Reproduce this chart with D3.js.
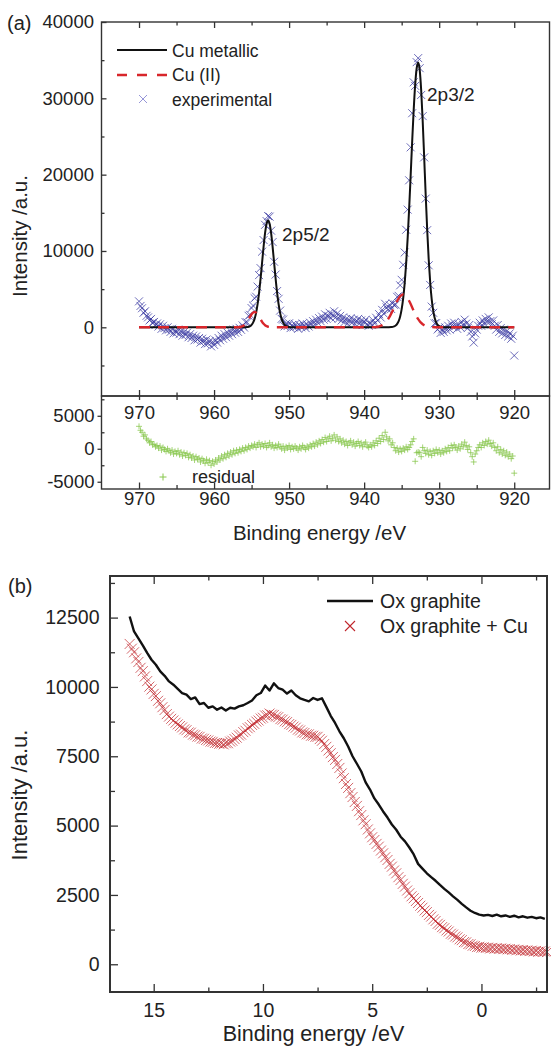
<!DOCTYPE html>
<html>
<head>
<meta charset="utf-8">
<script src="https://cdn.jsdelivr.net/npm/d3@7"></script>
<style>
  body { margin: 0; background: #fff; }
  svg text { font-family: "Liberation Sans", Arial, sans-serif; fill: #222; }
</style>
</head>
<body>
<div class="canvas"></div>
<script>
// (a) Cu 2p spectrum, sampled every 0.2 eV from 970 eV down to 920 eV
var cuEnergyStart = 970;
var cuEnergyStep = 0.2;
var experimental = [
  3400, 2800, 2500, 1900, 2100, 1500, 1300, 900, 1100, 600,
  700, 300, 500, 100, 400, -200, 200, -100, -400, 0,
  -300, -600, -200, -800, -400, -700, -300, -900, -500, -1100,
  -600, -1000, -700, -1300, -900, -1400, -1100, -1700, -1200, -1600,
  -1400, -2000, -1500, -1800, -2200, -1600, -2100, -1800, -2500, -1900,
  -2300, -1700, -2000, -1400, -1700, -1100, -1500, -900, -1300, -700,
  -1100, -500, -900, -300, -700, -200, -600, -70, -330, 250,
  -30, 670, 650, 1510, 1640, 2520, 2840, 3810, 4010, 5330,
  6840, 7750, 9910, 11430, 13430, 13920, 14570, 14500, 12660, 11170,
  8590, 6910, 4750, 3730, 2190, 1110, 1020, 120, 460, 170,
  530, -100, 300, 0, 400, 100, -200, 300, 0, 500,
  200, -100, 400, 100, 600, 300, 800, 400, 1000, 600,
  1200, 800, 1400, 1000, 1700, 1100, 1500, 1900, 1200, 1600,
  2100, 1300, 1800, 1100, 1500, 900, 1300, 700, 1100, 500,
  900, 1200, 600, 1000, 400, 800, 1100, 500, 900, 300,
  700, 1000, 400, 200, 600, 300, 920, 530, 1250, 880,
  1720, 1290, 2280, 1810, 3080, 2600, 2270, 2900, 2400, 3130,
  2930, 2980, 3990, 4120, 5500, 6220, 8190, 9800, 12780, 15420,
  19260, 23580, 28050, 32100, 31630, 34740, 35270, 33950, 30440, 27670,
  22260, 16860, 12730, 8120, 5550, 2710, 1900, 520, 550, -280,
  -50, -730, -270, -600, 0, -400, 200, -300, 500, 100,
  600, 200, -200, 400, 0, 700, 300, 1000, 500, -100,
  300, -600, -1200, -2000, -800, -300, 200, 600, 200, 900,
  500, 1100, 700, 1300, 800, 400, 900, 200, -300, 300,
  -600, -100, -800, -300, -1000, -500, -1200, -800, -1500, -1100,
  -3700
];
var residual = [
  3400, 2800, 2500, 1900, 2100, 1500, 1300, 900, 1100, 600,
  700, 300, 500, 100, 400, -200, 200, -100, -400, 0,
  -300, -600, -200, -800, -400, -700, -300, -900, -500, -1100,
  -600, -1000, -700, -1300, -900, -1400, -1100, -1700, -1200, -1600,
  -1400, -2000, -1500, -1800, -2200, -1600, -2100, -1800, -2500, -1900,
  -2300, -1700, -2000, -1400, -1700, -1100, -1500, -900, -1300, -700,
  -1100, -500, -900, -300, -700, -200, -600, -100, -400, 100,
  -300, 200, -100, 400, 100, 500, 300, 700, 200, 600,
  900, 300, 700, 400, 800, 200, 500, 900, 300, 600,
  100, 500, 200, 700, 300, 0, 400, -200, 300, 100,
  500, -100, 300, 0, 400, 100, -200, 300, 0, 500,
  200, -100, 400, 100, 600, 300, 800, 400, 1000, 600,
  1200, 800, 1400, 1000, 1700, 1100, 1500, 1900, 1200, 1600,
  2100, 1300, 1800, 1100, 1500, 900, 1300, 700, 1100, 500,
  900, 1200, 600, 1000, 400, 800, 1100, 500, 900, 300,
  700, 1000, 400, 200, 600, 300, 900, 500, 1200, 800,
  1600, 1100, 2000, 1400, 2500, 1800, 1200, 1500, 600, 900,
  200, -300, 100, -500, 0, -400, 100, -200, 300, -100,
  200, 600, 1100, 1500, -1900, -600, -500, -600, -1200, 200,
  -300, -700, -200, -900, -400, -1000, -300, -700, -100, -600,
  -200, -800, -300, -600, 0, -400, 200, -300, 500, 100,
  600, 200, -200, 400, 0, 700, 300, 1000, 500, -100,
  300, -600, -1200, -2000, -800, -300, 200, 600, 200, 900,
  500, 1100, 700, 1300, 800, 400, 900, 200, -300, 300,
  -600, -100, -800, -300, -1000, -500, -1200, -800, -1500, -1100,
  -3700
];
var cuMetallicFit = [
  [970, 0], [956, 0], [955.6, 31], [955.4, 71], [955.2, 156], [955, 319], [954.8, 615],
  [954.6, 1110], [954.4, 1890], [954.2, 3030], [954, 4550], [953.8, 6410], [953.6, 8490],
  [953.4, 10570], [953.2, 12360], [953, 13570], [952.8, 14000], [952.6, 13570], [952.4, 12360],
  [952.2, 10570], [952, 8490], [951.8, 6410], [951.6, 4550], [951.4, 3030], [951.2, 1890],
  [951, 1110], [950.8, 615], [950.6, 319], [950.4, 156], [950.2, 71], [950, 31], [949.6, 0],
  [937, 0], [936.4, 26], [936.2, 58], [936, 119], [935.8, 237], [935.6, 450], [935.4, 820],
  [935.2, 1430], [935, 2380], [934.8, 3790], [934.6, 5760], [934.4, 8410], [934.2, 11720],
  [934, 15620], [933.8, 19940], [933.6, 24340], [933.4, 28430], [933.2, 31760], [933, 33940],
  [932.8, 34700], [932.6, 33750], [932.4, 31060], [932.2, 27060], [932, 22280], [931.8, 17370],
  [931.6, 12810], [931.4, 8940], [931.2, 5900], [931, 3680], [930.8, 2180], [930.6, 1220],
  [930.4, 645], [930.2, 322], [930, 153], [929.8, 68], [929.6, 29], [929.2, 0], [920, 0]
];
var cuIIFit = [
  [970, 0], [957, 0], [956.6, 34], [956.4, 73], [956.2, 147], [956, 270], [955.8, 460],
  [955.6, 720], [955.4, 1040], [955.2, 1385], [955, 1700], [954.8, 1920], [954.6, 2000],
  [954.4, 1920], [954.2, 1700], [954, 1385], [953.8, 1040], [953.6, 720], [953.4, 460],
  [953.2, 270], [953, 147], [952.8, 73], [952.6, 34], [952.2, 0], [939.2, 0], [938.8, 17],
  [938.6, 29], [938.4, 48], [938.2, 78], [938, 123], [937.8, 189], [937.6, 280], [937.4, 410],
  [937.2, 580], [937, 800], [936.8, 1070], [936.6, 1395], [936.4, 1770], [936.2, 2175],
  [936, 2610], [935.8, 3040], [935.6, 3440], [935.4, 3795], [935.2, 4070], [935, 4240],
  [934.8, 4300], [934.6, 4240], [934.4, 4070], [934.2, 3795], [934, 3440], [933.8, 3040],
  [933.6, 2610], [933.4, 2175], [933.2, 1770], [933, 1395], [932.8, 1070], [932.6, 800],
  [932.4, 580], [932.2, 410], [932, 280], [931.8, 189], [931.6, 123], [931.4, 78],
  [931.2, 48], [931, 29], [930.8, 17], [930.4, 0], [920, 0]
];
var cuXTicks = [970, 960, 950, 940, 930, 920];
var cuXMinor = [965, 955, 945, 935, 925];
var cuYTicks = [0, 10000, 20000, 30000, 40000];
var cuYMinor = [-5000, 5000, 15000, 25000, 35000];
var resYTicks = [5000, 0, -5000];
var resYMinor = [7500, 2500, -2500];

// (b) valence band, from 16.1 eV downwards
var vbEnergyStart = 16.1;
var oxGraphiteStep = 0.2;
var oxGraphite = [
  12540, 12000, 11750, 11500, 11230, 10980, 10800, 10560, 10400, 10200,
  10080, 9930, 9780, 9720, 9560, 9620, 9380, 9420, 9250, 9300,
  9180, 9260, 9150, 9250, 9220, 9300, 9340, 9420, 9510, 9700,
  9780, 10050, 9870, 10130, 9960, 9900, 9760, 9870, 9700, 9590,
  9530, 9480, 9600, 9530, 9590, 9280, 8960, 8700, 8400, 8150,
  7850, 7500, 7230, 6950, 6560, 6300, 5980, 5760, 5510, 5290,
  5040, 4850, 4600, 4430, 4210, 3960, 3620, 3450, 3280, 3140,
  3010, 2860, 2720, 2590, 2450, 2320, 2180, 2050, 1930, 1850,
  1790, 1760, 1780, 1740, 1790, 1730, 1760, 1710, 1750, 1690,
  1730, 1680, 1710, 1660, 1690, 1640
];
var oxGraphiteCuStep = 0.1;
var oxGraphiteCu = [
  11550, 11380, 11250, 11030, 10900, 10690, 10570, 10380, 10210, 10010,
  9910, 9750, 9670, 9500, 9410, 9270, 9170, 9020, 8930, 8850,
  8790, 8710, 8650, 8590, 8540, 8470, 8440, 8360, 8350, 8280,
  8260, 8210, 8200, 8140, 8130, 8090, 8070, 8030, 8020, 7980,
  7980, 7950, 7960, 7930, 7970, 7970, 8030, 8060, 8120, 8170,
  8250, 8280, 8370, 8420, 8510, 8550, 8630, 8670, 8750, 8790,
  8860, 8890, 8970, 8980, 9040, 9000, 8990, 8930, 8910, 8840,
  8820, 8760, 8730, 8660, 8630, 8570, 8530, 8460, 8430, 8360,
  8340, 8290, 8290, 8240, 8240, 8200, 8200, 8120, 8060, 7940,
  7840, 7710, 7610, 7470, 7370, 7220, 7080, 6880, 6710, 6500,
  6360, 6170, 6030, 5850, 5710, 5520, 5380, 5190, 5050, 4860,
  4720, 4580, 4480, 4340, 4240, 4100, 4000, 3860, 3760, 3620,
  3520, 3380, 3280, 3140, 3040, 2900, 2800, 2660, 2560, 2450,
  2380, 2280, 2210, 2110, 2040, 1940, 1880, 1780, 1720, 1620,
  1560, 1460, 1420, 1340, 1300, 1220, 1180, 1100, 1070, 1000,
  970, 900, 870, 800, 790, 730, 720, 670, 660, 620,
  630, 600, 610, 590, 600, 570, 590, 560, 580, 555,
  570, 545, 560, 535, 550, 520, 535, 505, 520, 495,
  510, 485, 500, 475, 490, 460, 480, 450, 470, 445,
  460, 440
];
var vbXTicks = [15, 10, 5, 0];
var vbXMinor = [12.5, 7.5, 2.5, -2.5];
var vbYTicks = [0, 2500, 5000, 7500, 10000, 12500];
var vbYMinor = [1250, 3750, 6250, 8750, 11250, 13750];

var width = 551;
var height = 1047;
var frameColor = "#333";
var plainNumber = (d) => String(d);

var svg = d3
  .select(".canvas")
  .append("svg")
  .attr("width", width)
  .attr("height", height);

function crossPath(s) {
  return `M${-s},${-s}L${s},${s}M${-s},${s}L${s},${-s}`;
}
function plusPath(s) {
  return `M${-s},0L${s},0M0,${-s}L0,${s}`;
}
function styleAxis(g, size) {
  g.select(".domain").remove();
  g.selectAll("line").attr("stroke", frameColor).attr("stroke-width", 1.3);
  g.selectAll("text")
    .attr("fill", "#222")
    .style("font-family", '"Liberation Sans", Arial, sans-serif')
    .style("font-size", size + "px");
}

/* ---------- panel (a) ---------- */
var xCu = d3.scaleLinear().domain([975, 915.3]).range([101.5, 549.5]);
var yCu = d3.scaleLinear().domain([-9000, 40000]).range([396, 22]);
var yRes = d3.scaleLinear().domain([-6100, 8000]).range([489, 396]);

var expPoints = experimental.map((v, i) => ({
  e: cuEnergyStart - i * cuEnergyStep,
  v: v,
}));
var resPoints = residual.map((v, i) => ({
  e: cuEnergyStart - i * cuEnergyStep,
  v: v,
}));

var fitLine = d3
  .line()
  .x((d) => xCu(d[0]))
  .y((d) => yCu(d[1]))
  .curve(d3.curveMonotoneX);

var panelA = svg.append("g").attr("class", "panel-a");

panelA
  .append("g")
  .selectAll("path")
  .data(expPoints)
  .enter()
  .append("path")
  .attr("d", crossPath(4))
  .attr("transform", (d) => `translate(${xCu(d.e)},${yCu(d.v)})`)
  .attr("stroke", "#2f2f9c")
  .attr("stroke-opacity", 0.7)
  .attr("stroke-width", 1)
  .attr("fill", "none");

panelA
  .append("path")
  .datum(cuMetallicFit)
  .attr("d", fitLine)
  .attr("fill", "none")
  .attr("stroke", "#111")
  .attr("stroke-width", 2);

panelA
  .append("path")
  .datum(cuIIFit)
  .attr("d", fitLine)
  .attr("fill", "none")
  .attr("stroke", "#d8262b")
  .attr("stroke-width", 2.4)
  .attr("stroke-dasharray", "11,8");

// residual markers
panelA
  .append("g")
  .selectAll("path")
  .data(resPoints)
  .enter()
  .append("path")
  .attr("d", plusPath(3))
  .attr("transform", (d) => `translate(${xCu(d.e)},${yRes(d.v)})`)
  .attr("stroke", "#86c64a")
  .attr("stroke-opacity", 0.75)
  .attr("stroke-width", 1)
  .attr("fill", "none");

// frames
panelA
  .append("rect")
  .attr("x", 101.5)
  .attr("y", 22)
  .attr("width", 448)
  .attr("height", 374)
  .attr("fill", "none")
  .attr("stroke", frameColor)
  .attr("stroke-width", 1.4);
panelA
  .append("rect")
  .attr("x", 101.5)
  .attr("y", 396)
  .attr("width", 448)
  .attr("height", 93)
  .attr("fill", "none")
  .attr("stroke", frameColor)
  .attr("stroke-width", 1.4);

// y axis main
panelA
  .append("g")
  .attr("transform", "translate(101.5,0)")
  .call(d3.axisLeft(yCu).tickValues(cuYTicks).tickSize(-5).tickPadding(7.5).tickFormat(plainNumber))
  .call((g) => styleAxis(g, 18.5));
panelA
  .append("g")
  .attr("transform", "translate(101.5,0)")
  .call(d3.axisLeft(yCu).tickValues(cuYMinor).tickSize(-3).tickFormat(""))
  .call((g) => styleAxis(g, 18.5));

// x axes main
panelA
  .append("g")
  .attr("transform", "translate(0,22)")
  .call(d3.axisTop(xCu).tickValues(cuXTicks).tickSize(-6).tickFormat(""))
  .call((g) => styleAxis(g, 18.5));
panelA
  .append("g")
  .attr("transform", "translate(0,22)")
  .call(d3.axisTop(xCu).tickValues(cuXMinor).tickSize(-3.5).tickFormat(""))
  .call((g) => styleAxis(g, 18.5));
panelA
  .append("g")
  .attr("transform", "translate(0,396)")
  .call(d3.axisBottom(xCu).tickValues(cuXTicks).tickSize(-6).tickPadding(10).tickFormat(plainNumber))
  .call((g) => styleAxis(g, 18.5));
panelA
  .append("g")
  .attr("transform", "translate(0,396)")
  .call(d3.axisBottom(xCu).tickValues(cuXMinor).tickSize(-3.5).tickFormat(""))
  .call((g) => styleAxis(g, 18.5));
panelA
  .append("g")
  .attr("transform", "translate(0,396)")
  .call(d3.axisBottom(xCu).tickValues(cuXTicks.concat(cuXMinor)).tickSize(4).tickFormat(""))
  .call((g) => styleAxis(g, 18.5));

// residual axes
panelA
  .append("g")
  .attr("transform", "translate(101.5,0)")
  .call(d3.axisLeft(yRes).tickValues(resYTicks).tickSize(4).tickPadding(3).tickFormat(plainNumber))
  .call((g) => styleAxis(g, 18.5));
panelA
  .append("g")
  .attr("transform", "translate(101.5,0)")
  .call(d3.axisLeft(yRes).tickValues(resYMinor).tickSize(-3).tickFormat(""))
  .call((g) => styleAxis(g, 18.5));
panelA
  .append("g")
  .attr("transform", "translate(0,489)")
  .call(d3.axisBottom(xCu).tickValues(cuXTicks).tickSize(-6.5).tickPadding(3).tickFormat(plainNumber))
  .call((g) => styleAxis(g, 18.5));
panelA
  .append("g")
  .attr("transform", "translate(0,489)")
  .call(d3.axisBottom(xCu).tickValues(cuXMinor).tickSize(-4).tickFormat(""))
  .call((g) => styleAxis(g, 18.5));

// labels
panelA
  .append("text")
  .attr("x", 7)
  .attr("y", 30)
  .style("font-size", "20px")
  .text("(a)");
panelA
  .append("text")
  .attr("transform", "translate(27,236) rotate(-90)")
  .attr("text-anchor", "middle")
  .style("font-size", "20.5px")
  .text("Intensity /a.u.");
panelA
  .append("text")
  .attr("x", 319.5)
  .attr("y", 540)
  .attr("text-anchor", "middle")
  .style("font-size", "20.5px")
  .text("Binding energy /eV");
panelA
  .append("text")
  .attr("x", 427)
  .attr("y", 101)
  .style("font-size", "19px")
  .text("2p3/2");
panelA
  .append("text")
  .attr("x", 282)
  .attr("y", 241)
  .style("font-size", "19px")
  .text("2p5/2");

// legend (a)
var legA = panelA.append("g").attr("class", "legend");
legA
  .append("line")
  .attr("x1", 117)
  .attr("x2", 167)
  .attr("y1", 50)
  .attr("y2", 50)
  .attr("stroke", "#111")
  .attr("stroke-width", 2);
legA
  .append("line")
  .attr("x1", 117)
  .attr("x2", 167)
  .attr("y1", 75)
  .attr("y2", 75)
  .attr("stroke", "#d8262b")
  .attr("stroke-width", 2.4)
  .attr("stroke-dasharray", "10,10");
legA
  .append("path")
  .attr("d", crossPath(4))
  .attr("transform", "translate(143,99)")
  .attr("stroke", "#6a6ac8")
  .attr("stroke-opacity", 0.7)
  .attr("stroke-width", 1)
  .attr("fill", "none");
["Cu metallic", "Cu (II)", "experimental"].forEach(function (t, i) {
  legA
    .append("text")
    .attr("x", 172)
    .attr("y", 56.5 + i * 24.5)
    .style("font-size", "17.5px")
    .text(t);
});
legA
  .append("path")
  .attr("d", plusPath(3.5))
  .attr("transform", "translate(163,477)")
  .attr("stroke", "#86c64a")
  .attr("stroke-width", 1)
  .attr("fill", "none");
legA
  .append("text")
  .attr("x", 192)
  .attr("y", 483)
  .style("font-size", "18px")
  .text("residual");

/* ---------- panel (b) ---------- */
var xVb = d3.scaleLinear().domain([17, -3]).range([110, 547]);
var yVb = d3.scaleLinear().domain([-1000, 14000]).range([992, 576]);

var graphitePoints = oxGraphite.map((v, i) => ({
  e: vbEnergyStart - i * oxGraphiteStep,
  v: v,
}));
var graphiteCuPoints = oxGraphiteCu.map((v, i) => ({
  e: vbEnergyStart - i * oxGraphiteCuStep,
  v: v,
}));

var panelB = svg.append("g").attr("class", "panel-b");

panelB
  .append("path")
  .datum(graphitePoints)
  .attr(
    "d",
    d3
      .line()
      .x((d) => xVb(d.e))
      .y((d) => yVb(d.v))
  )
  .attr("fill", "none")
  .attr("stroke", "#111")
  .attr("stroke-width", 2.4)
  .attr("stroke-linejoin", "round");

panelB
  .append("g")
  .selectAll("path")
  .data(graphiteCuPoints)
  .enter()
  .append("path")
  .attr("d", crossPath(5))
  .attr("transform", (d) => `translate(${xVb(d.e)},${yVb(d.v)})`)
  .attr("stroke", "#c0262c")
  .attr("stroke-opacity", 0.7)
  .attr("stroke-width", 1)
  .attr("fill", "none");

panelB
  .append("rect")
  .attr("x", 110)
  .attr("y", 576)
  .attr("width", 437)
  .attr("height", 416)
  .attr("fill", "none")
  .attr("stroke", frameColor)
  .attr("stroke-width", 2);

panelB
  .append("g")
  .attr("transform", "translate(110,0)")
  .call(d3.axisLeft(yVb).tickValues(vbYTicks).tickSize(-8).tickPadding(10.5).tickFormat(plainNumber))
  .call((g) => styleAxis(g, 19.5));
panelB
  .append("g")
  .attr("transform", "translate(110,0)")
  .call(d3.axisLeft(yVb).tickValues(vbYMinor).tickSize(-5).tickFormat(""))
  .call((g) => styleAxis(g, 19.5));
panelB
  .append("g")
  .attr("transform", "translate(0,992)")
  .call(d3.axisBottom(xVb).tickValues(vbXTicks).tickSize(-8).tickPadding(11).tickFormat(plainNumber))
  .call((g) => styleAxis(g, 19.5));
panelB
  .append("g")
  .attr("transform", "translate(0,992)")
  .call(d3.axisBottom(xVb).tickValues(vbXMinor).tickSize(-4.5).tickFormat(""))
  .call((g) => styleAxis(g, 19.5));
panelB
  .append("g")
  .attr("transform", "translate(0,576)")
  .call(d3.axisTop(xVb).tickValues(vbXTicks).tickSize(-8).tickFormat(""))
  .call((g) => styleAxis(g, 19.5));
panelB
  .append("g")
  .attr("transform", "translate(0,576)")
  .call(d3.axisTop(xVb).tickValues(vbXMinor).tickSize(-4.5).tickFormat(""))
  .call((g) => styleAxis(g, 19.5));

panelB
  .append("text")
  .attr("x", 8)
  .attr("y", 593)
  .style("font-size", "20px")
  .text("(b)");
panelB
  .append("text")
  .attr("transform", "translate(27,795) rotate(-90)")
  .attr("text-anchor", "middle")
  .style("font-size", "22px")
  .text("Intensity /a.u.");
panelB
  .append("text")
  .attr("x", 313.5)
  .attr("y", 1041)
  .attr("text-anchor", "middle")
  .style("font-size", "21.5px")
  .text("Binding energy /eV");

var legB = panelB.append("g").attr("class", "legend");
legB
  .append("line")
  .attr("x1", 327)
  .attr("x2", 373)
  .attr("y1", 601)
  .attr("y2", 601)
  .attr("stroke", "#111")
  .attr("stroke-width", 2.4);
legB
  .append("path")
  .attr("d", crossPath(5))
  .attr("transform", "translate(350,626)")
  .attr("stroke", "#c0262c")
  .attr("stroke-width", 1.1)
  .attr("fill", "none");
legB
  .append("text")
  .attr("x", 380)
  .attr("y", 608)
  .style("font-size", "19.5px")
  .text("Ox graphite");
legB
  .append("text")
  .attr("x", 380)
  .attr("y", 633)
  .style("font-size", "19.5px")
  .text("Ox graphite + Cu");
</script>
</body>
</html>
